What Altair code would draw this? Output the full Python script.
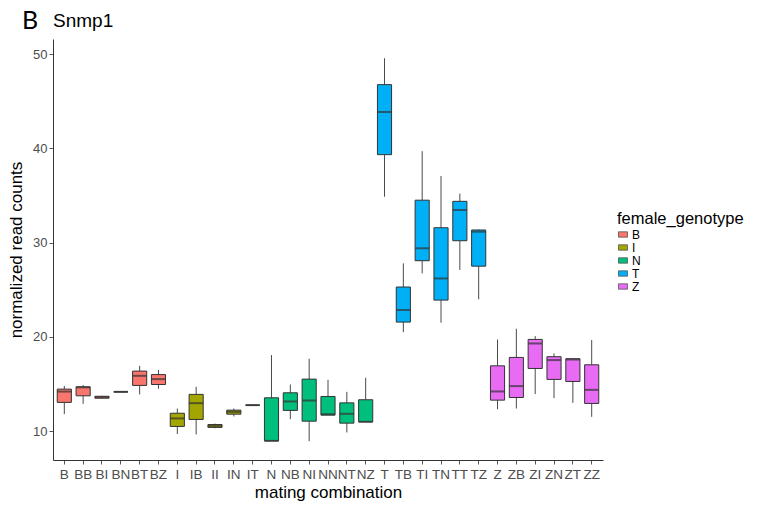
import altair as alt
import pandas as pd

categories = ["B", "BB", "BI", "BN", "BT", "BZ", "I", "IB", "II", "IN", "IT",
              "N", "NB", "NI", "NN", "NT", "NZ", "T", "TB", "TI", "TN", "TT", "TZ",
              "Z", "ZB", "ZI", "ZN", "ZT", "ZZ"]
female_genotype = ["B", "B", "B", "B", "B", "B", "I", "I", "I", "I", "I",
                   "N", "N", "N", "N", "N", "N", "T", "T", "T", "T", "T", "T",
                   "Z", "Z", "Z", "Z", "Z", "Z"]
lower = [11.8, 12.9, 13.45, 14.17, 13.9, 14.5, 9.7, 9.65, 10.3, 11.56, 12.76,
         8.97, 11.27, 8.94, 11.7, 9.86, 10.99, 34.87, 20.5, 26.74, 21.5, 27.1, 23.98,
         12.33, 12.4, 13.93, 13.5, 13.0, 11.52]
q1 = [13.05, 13.75, 13.5, 14.17, 14.85, 14.95, 10.5, 11.24, 10.4, 11.8, 12.76,
      8.97, 12.2, 11.06, 11.7, 10.85, 10.99, 39.33, 21.57, 28.08, 23.9, 30.2, 27.5,
      13.29, 13.57, 16.65, 15.49, 15.27, 12.94]
median = [14.2, 14.65, 13.6, 14.17, 15.87, 15.52, 11.35, 12.97, 10.56, 12.05, 12.76,
          8.97, 13.15, 13.26, 11.8, 11.84, 10.99, 43.86, 22.85, 29.4, 26.2, 33.46, 31.16,
          14.21, 14.78, 19.3, 17.54, 17.6, 14.38]
q3 = [14.46, 14.7, 13.7, 14.17, 16.37, 16.0, 11.9, 13.9, 10.7, 12.23, 12.76,
      13.54, 14.07, 15.52, 13.68, 13.0, 13.33, 46.76, 25.29, 34.5, 31.58, 34.38, 31.34,
      16.93, 17.82, 19.73, 17.9, 17.68, 17.04]
upper = [14.8, 14.9, 13.75, 14.17, 16.93, 16.5, 12.4, 14.7, 10.8, 12.4, 12.76,
         18.07, 14.95, 17.68, 15.45, 14.17, 15.66, 49.56, 27.8, 39.7, 37.07, 35.2, 31.4,
         19.73, 20.86, 20.08, 18.25, 17.7, 19.66]

genotypes = ["B", "I", "N", "T", "Z"]
palette = ["#F8766D", "#A3A500", "#00BF7D", "#00B0F6", "#E76BF3"]

df = pd.DataFrame({
    "cat": categories, "female_genotype": female_genotype,
    "lo": lower, "q1": q1, "med": median, "q3": q3, "hi": upper,
})

FONT = "Liberation Sans"
yscale = alt.Scale(domain=[6.94, 51.6], nice=False, zero=False)
xenc = alt.X("cat:N", sort=categories,
             scale=alt.Scale(paddingInner=0, paddingOuter=0.1),
             axis=alt.Axis(title="mating combination", labelAngle=0,
                           labelFontSize=13.5, labelPadding=3, titlePadding=4))
yaxis = alt.Axis(title="normalized read counts", values=[10, 20, 30, 40, 50],
                 labelFontSize=13, titlePadding=7, labelPadding=2)

base = alt.Chart(df).encode(x=xenc)

whisk_up = base.mark_rule(color="#4a4a4a", strokeWidth=1).encode(
    y=alt.Y("q3:Q", scale=yscale, axis=yaxis), y2="hi:Q")
whisk_lo = base.mark_rule(color="#4a4a4a", strokeWidth=1).encode(
    y=alt.Y("lo:Q", scale=yscale), y2="q1:Q")
box = base.mark_bar(width=alt.RelativeBandSize(0.75), stroke="#333333",
                    strokeWidth=1).encode(
    y=alt.Y("q1:Q", scale=yscale), y2="q3:Q",
    color=alt.Color("female_genotype:N",
                    scale=alt.Scale(domain=genotypes, range=palette),
                    legend=alt.Legend(title="female_genotype", orient="none",
                                      legendX=564, legendY=172,
                                      symbolType="M-1,-0.6H1V0.6H-1Z",
                                      symbolSize=81,
                                      symbolStrokeColor="#555555",
                                      symbolStrokeWidth=0.8,
                                      rowPadding=1, labelOffset=3,
                                      labelFontSize=12, titleFontSize=16.5,
                                      titleFontWeight="normal",
                                      titleColor="black", labelColor="black",
                                      titlePadding=1)))
med = base.mark_tick(color="#333333", thickness=2, size=14).encode(
    y=alt.Y("med:Q", scale=yscale))

labels = pd.DataFrame({"t": ["B"]})
panel = alt.Chart(labels).mark_text(font="Lato", fontSize=25, align="left",
                                    baseline="alphabetic", color="black").encode(
    x=alt.value(-31), y=alt.value(-10), text="t:N")
title_df = pd.DataFrame({"t": ["Snmp1"]})
gene = alt.Chart(title_df).mark_text(font=FONT, fontSize=19, align="left",
                                     baseline="alphabetic", color="black").encode(
    x=alt.value(0), y=alt.value(-12), text="t:N")

chart = alt.layer(whisk_up, whisk_lo, box, med, panel, gene).properties(
    width=550, height=421,
    autosize=alt.AutoSizeParams(type="none"),
    padding={"left": 45, "top": 31, "right": 155, "bottom": 46},
).configure_view(stroke=None).configure_axis(
    grid=False, domainColor="#333333", tickColor="#555555", tickSize=4,
    labelColor="#4D4D4D", labelFont=FONT,
    titleFont=FONT, titleFontSize=17, titleFontWeight="normal",
    titleColor="black",
).configure_legend(labelFont=FONT, titleFont=FONT)

chart.save("out.html", embed_options={"renderer": "svg", "actions": False})
